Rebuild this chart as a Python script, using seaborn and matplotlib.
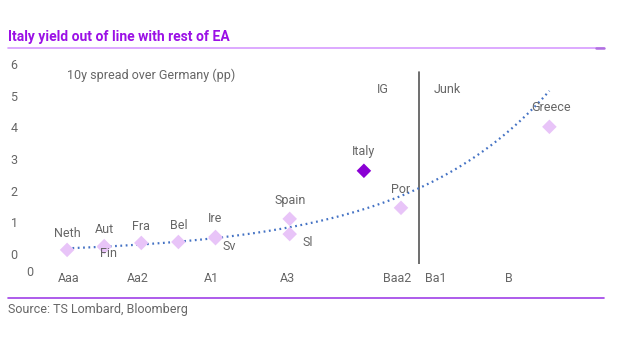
import numpy as np
import pandas as pd
import matplotlib
matplotlib.use("Agg")
import matplotlib.pyplot as plt
import seaborn as sns
from matplotlib.lines import Line2D

# ---- data ----
countries = ["Neth", "Aut", "Fin", "Fra", "Bel", "Ire", "Sv", "Spain", "Sl", "Italy", "Por", "Greece"]
rating_pos = [1, 2, 2, 3, 4, 5, 5, 7, 7, 9, 10, 14]
spread = [0.13, 0.25, 0.22, 0.35, 0.38, 0.54, 0.50, 1.11, 0.63, 2.63, 1.46, 4.02]
rating_labels = ["Aaa", "Aa2", "A1", "A3", "Baa2", "Ba1", "B"]
rating_label_pos = [1.05, 2.9, 4.9, 6.95, 9.9, 10.95, 12.9]
ig_junk_boundary = 10.48

df = pd.DataFrame({"country": countries, "x": rating_pos, "y": spread})
df["group"] = np.where(df["country"] == "Italy", "Italy", "Other")

sns.set_theme(style="white")
plt.rcParams["font.family"] = ["Roboto", "DejaVu Sans"]

fig = plt.figure(figsize=(6.4, 3.6), dpi=100)
ax = fig.add_axes([30/640, (360-263.5)/360, 556.5/640, (263.5-61)/360])

grey = "#666666"
light = "#E8C4F8"
dark = "#8A00D4"

# exponential trendline (log-linear least squares, as Excel does)
b, loga = np.polyfit(df["x"], np.log(df["y"]), 1)
xt = np.linspace(1, 14, 200)
ax.plot(xt, np.exp(loga) * np.exp(b * xt), color="#4472C4", lw=1.6,
        linestyle=(0, (0.8, 1.6)), zorder=2)

sns.scatterplot(data=df, x="x", y="y", hue="group", palette={"Italy": dark, "Other": light},
                marker="D", s=55, edgecolor="none", legend=False, ax=ax, zorder=3)

offsets = {"Neth": (0, 12), "Aut": (0, 12), "Fin": (3, -5), "Fra": (0, 12), "Bel": (0, 12),
           "Ire": (0, 13), "Sv": (10, -6), "Spain": (0, 13), "Sl": (13, -6), "Italy": (0, 14),
           "Por": (0, 13), "Greece": (1, 14)}
for c, x, y in zip(countries, rating_pos, spread):
    dx, dy = offsets[c]
    ax.annotate(c, (x, y), xytext=(dx, dy), textcoords="offset points",
                ha="center", va="center", fontsize=9, color=grey, zorder=4)

ax.plot([ig_junk_boundary, ig_junk_boundary], [-0.35, 5.76], color="#555555", lw=1.2, zorder=1)
ax.text(9.5, 5.2, "IG", fontsize=9, color=grey, ha="center", va="center")
ax.text(11.25, 5.2, "Junk", fontsize=9, color=grey, ha="center", va="center")
ax.text(1.0, 5.65, "10y spread over Germany (pp)", fontsize=9, color=grey, ha="left", va="center")

for lab, pos in zip(rating_labels, rating_label_pos):
    ax.text(pos, -0.76, lab, fontsize=9, color=grey, ha="center", va="center", clip_on=False)

ax.set_xlim(0, 15)
ax.set_ylim(-0.3, 6.1)
ax.set_yticks(range(0, 7))
ax.set_xticks([0])
ax.set_xticklabels(["0"])
ax.tick_params(axis="both", length=0, labelsize=9, labelcolor=grey)
ax.tick_params(axis="y", pad=9)
ax.tick_params(axis="x", pad=2)
ax.set_xlabel("")
ax.set_ylabel("")
for s in ax.spines.values():
    s.set_visible(False)
ax.patch.set_alpha(0)

# title, rules, source
fig.text(8/640, 1 - 36.5/360, "Italy yield out of line with rest of EA", fontsize=10,
         fontweight="bold", color="#9B10E6", ha="left", va="center",
         family=["Liberation Sans Narrow", "Roboto", "DejaVu Sans"])
fig.add_artist(Line2D([8/640, 604/640], [1 - 48/360] * 2, color="#D79BFF", lw=1.2))
fig.add_artist(Line2D([596/640, 604/640], [1 - 48/360] * 2, color="#B070E0", lw=1.8))
fig.add_artist(Line2D([8/640, 604/640], [1 - 298/360] * 2, color="#A040E8", lw=1.2))
fig.text(8/640, 1 - 310/360, "Source: TS Lombard, Bloomberg", fontsize=9, color=grey,
         ha="left", va="center")

fig.savefig("out.png", dpi=100)
